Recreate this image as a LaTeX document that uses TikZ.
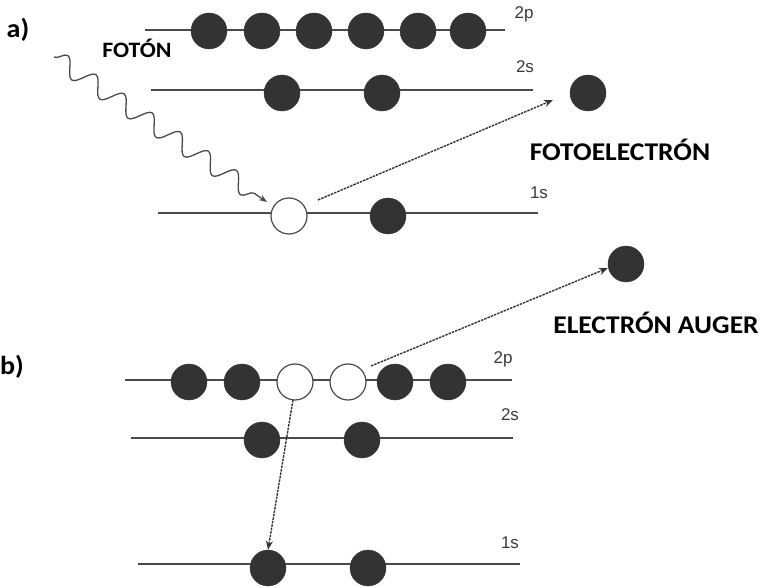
\documentclass[tikz,border=0pt]{standalone}
\usepackage{fontspec}
\setmainfont{Carlito}
\newfontfamily\lab{Liberation Sans}
\newfontfamily\bigf[FakeStretch=1.08]{Carlito}
\usetikzlibrary{decorations.pathmorphing,arrows.meta}
\definecolor{dk}{HTML}{333333}
\definecolor{ln}{HTML}{4A4A4A}
\definecolor{lg}{HTML}{3A3A3A}
\tikzset{
  full/.style={circle,minimum size=36pt,inner sep=0pt,fill=dk,draw=dk},
  hole/.style={circle,minimum size=36pt,inner sep=0pt,fill=white,draw=ln,line width=1.2pt},
  level/.style={draw=ln,line width=2pt},
  lvl/.style={font=\lab\fontsize{17}{17}\selectfont,text=lg,inner sep=0pt},
  big/.style={font=\bigf\bfseries\fontsize{25.5}{25.5}\selectfont,inner sep=0pt},
  mid/.style={font=\bigf\bfseries\fontsize{22}{22}\selectfont,inner sep=0pt},
  part/.style={font=\bigf\bfseries\fontsize{26}{26}\selectfont,inner sep=0pt},
  trans/.style={draw=dk,line width=1.4pt,dash pattern=on 2.5pt off 1pt,-{Stealth[length=9pt,width=7pt]}},
}
\begin{document}
\begin{tikzpicture}[x=1pt,y=-1pt]
\useasboundingbox (0,0) rectangle (764,588);
% ---------- a)
\node[part] (la) at (18,30) {a)};
\node[mid] (foton) at (137,48) {FOTÓN};
% 2p
\coordinate (a2pL) at (145,30); \coordinate (a2pR) at (505,30);
\draw[level] (a2pL) -- (a2pR);
\foreach \x [count=\i] in {209,262,314,366,418,468} \node[full] (a2p\i) at (\x,31) {};
\node[lvl] (a2plab) at (524,14) {2p};
% 2s
\coordinate (a2sL) at (151,90); \coordinate (a2sR) at (533,90);
\draw[level] (a2sL) -- (a2sR);
\node[full] (a2s1) at (282,93) {};
\node[full] (a2s2) at (382,93) {};
\node[lvl] (a2slab) at (525,67) {2s};
% 1s
\coordinate (a1sL) at (158,213); \coordinate (a1sR) at (538,213);
\draw[level] (a1sL) -- (a1sR);
\node[hole] (a1s1) at (289,216) {};
\node[full] (a1s2) at (388,216) {};
\node[lvl] (a1slab) at (539,193) {1s};
% photoelectron
\node[full] (pe) at (588,93) {};
\node[big] (pelab) at (620,150) {FOTOELECTRÓN};
\coordinate (peS) at (318,200); \coordinate (peE) at (553,100);
\draw[trans] (peS) -- (peE);
% photon
\coordinate (phS) at (54,57); \coordinate (phE) at (267,202);
\draw[draw=ln,line width=1.3pt,decorate,decoration={snake,segment length=34pt,amplitude=9pt,post length=14pt},-{Stealth[length=8pt,width=6pt]}] (phS) -- (phE);
% ---------- b)
\node[part] (lb) at (12,367) {b)};
% 2p
\coordinate (b2pL) at (125,380); \coordinate (b2pR) at (512,380);
\draw[level] (b2pL) -- (b2pR);
\node[full] (b2p1) at (189,382) {};
\node[full] (b2p2) at (242,382) {};
\node[hole] (b2p3) at (295,382) {};
\node[hole] (b2p4) at (348,382) {};
\node[full] (b2p5) at (395,382) {};
\node[full] (b2p6) at (448,382) {};
\node[lvl] (b2plab) at (503,359) {2p};
% 2s
\coordinate (b2sL) at (131,438); \coordinate (b2sR) at (513,438);
\draw[level] (b2sL) -- (b2sR);
\node[full] (b2s1) at (262,440) {};
\node[full] (b2s2) at (362,440) {};
\node[lvl] (b2slab) at (510,415) {2s};
% 1s
\coordinate (b1sL) at (138,564); \coordinate (b1sR) at (520,564);
\draw[level] (b1sL) -- (b1sR);
\node[full] (b1s1) at (268,568) {};
\node[full] (b1s2) at (368,568) {};
\node[lvl] (b1slab) at (510,543) {1s};
% Auger electron
\node[full] (au) at (626,264) {};
\node[big] (aulab) at (656,323) {ELECTRÓN AUGER};
\coordinate (auS) at (371,366); \coordinate (auE) at (608,268);
\draw[trans] (auS) -- (auE);
% relaxation
\coordinate (rlS) at (293,400);
\draw[trans] (rlS) -- (b1s1.north);
\end{tikzpicture}
\end{document}
